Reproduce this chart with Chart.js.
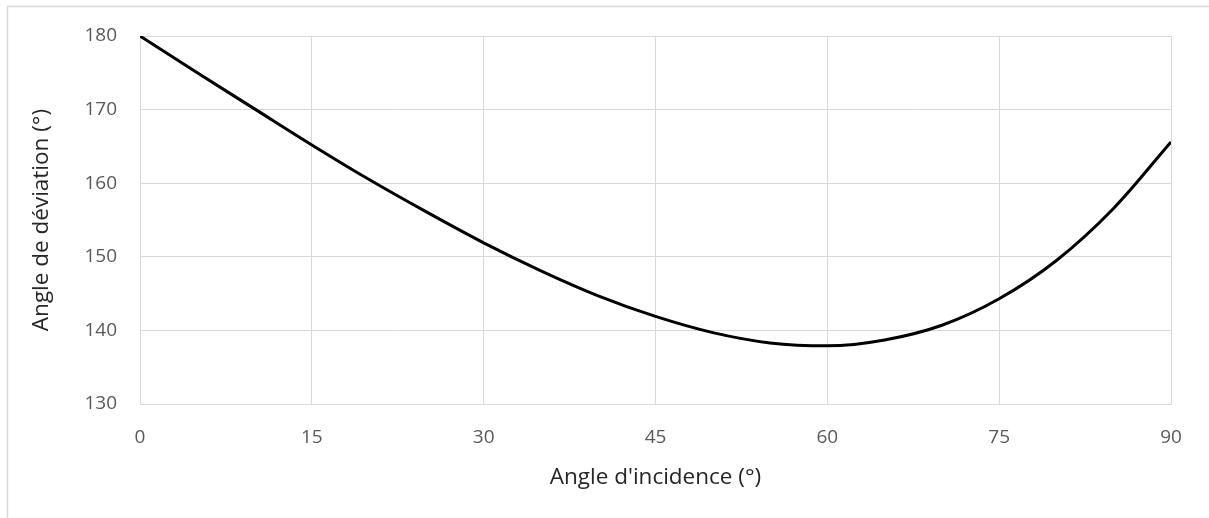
<!DOCTYPE html>
<html>
<head>
<meta charset="utf-8">
<script src="https://cdn.jsdelivr.net/npm/chart.js@4/dist/chart.umd.min.js"></script>
<style>
  html, body { margin: 0; padding: 0; background: #fff; }
  #wrap { width: 1209px; height: 518px; position: relative; }
</style>
</head>
<body>
<div id="wrap"><canvas id="chart" width="1209" height="518"></canvas></div>
<script>
// angle d'incidence (°)
const incidence = [0, 5, 10, 15, 20, 25, 30, 35, 40, 45, 50, 55, 60, 65, 70, 75, 80, 85, 90];
// angle de déviation (°)
const deviation = [180.0, 175.0, 170.1, 165.2, 160.5, 156.1, 151.9, 148.1, 144.7, 141.9,
    139.7, 138.3, 137.9, 138.7, 140.7, 144.3, 149.5, 156.6, 165.6];

const xTicks = [0, 15, 30, 45, 60, 75, 90];
const yTicks = [130, 140, 150, 160, 170, 180];

const FONT = '"Open Sans", sans-serif';

const framePlugin = {
    id: 'frame',
    beforeDraw(chart) {
        const ctx = chart.ctx;
        ctx.save();
        ctx.strokeStyle = '#d9d9d9';
        ctx.lineWidth = 1.5;
        ctx.strokeRect(7.5, 6.5, 1220, 530);
        ctx.restore();
    }
};

new Chart(document.getElementById('chart'), {
    type: 'line',
    data: {
        datasets: [{
            data: incidence.map((x, i) => ({ x, y: deviation[i] })),
            borderColor: '#000',
            borderWidth: 3,
            pointRadius: 0,
            cubicInterpolationMode: 'monotone',
            fill: false
        }]
    },
    options: {
        responsive: false,
        animation: false,
        layout: { padding: { left: 0, top: 36, right: 38, bottom: 0 } },
        plugins: { legend: { display: false }, tooltip: { enabled: false } },
        scales: {
            x: {
                type: 'linear',
                min: 0, max: 90,
                afterBuildTicks: s => { s.ticks = xTicks.map(v => ({ value: v })); },
                afterFit: s => { s.height = 114; },
                grid: { color: '#d9d9d9', drawTicks: false },
                border: { color: '#d9d9d9' },
                ticks: { color: '#595959', padding: 22, font: { family: FONT, size: 19 }, maxRotation: 0 },
                title: { display: true, text: "Angle d'incidence (°)", color: '#262626',
                    font: { family: FONT, size: 22.5 }, padding: { top: 27, bottom: 27 } }
            },
            y: {
                min: 130, max: 180,
                afterBuildTicks: s => { s.ticks = yTicks.map(v => ({ value: v })); },
                afterFit: s => { s.width = 140; },
                grid: { color: '#d9d9d9', drawTicks: false },
                border: { color: '#d9d9d9' },
                ticks: { color: '#595959', padding: 23, font: { family: FONT, size: 19 } },
                title: { display: true, text: 'Angle de déviation (°)', color: '#262626',
                    font: { family: FONT, size: 22.5 }, padding: { top: 28, bottom: 28 } }
            }
        }
    },
    plugins: [framePlugin]
});
</script>
</body>
</html>
